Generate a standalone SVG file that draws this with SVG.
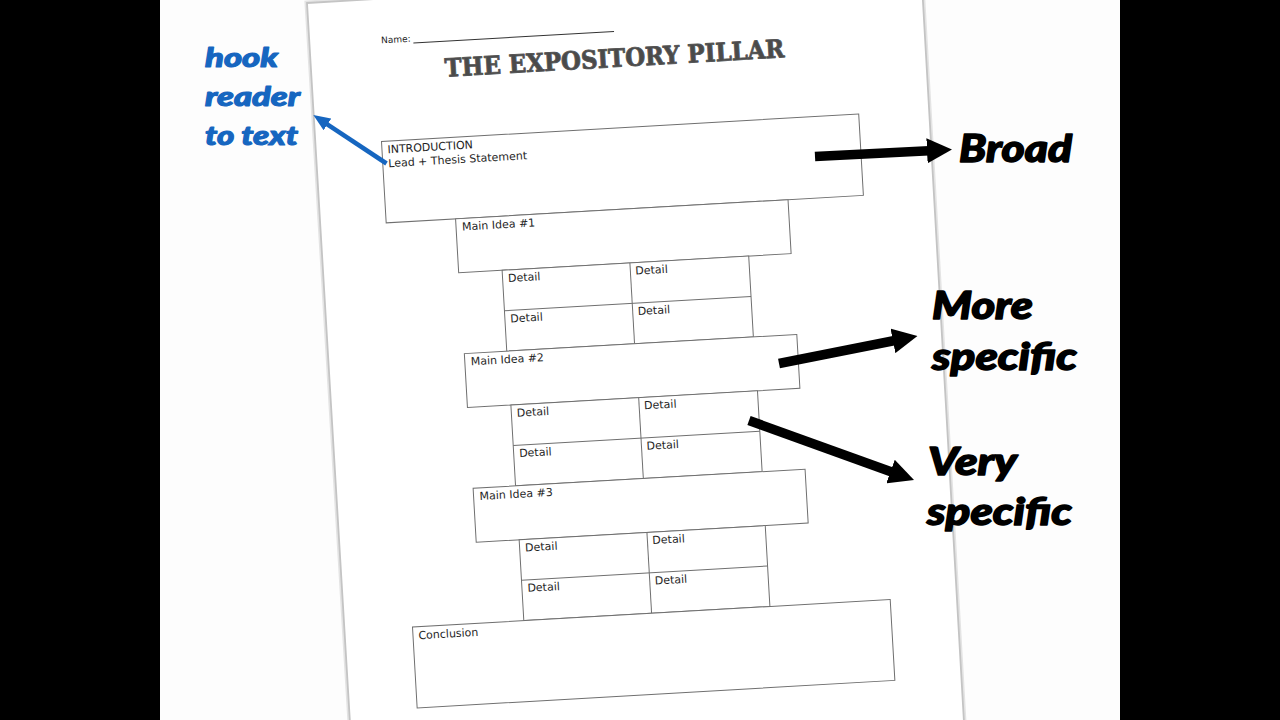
<svg xmlns="http://www.w3.org/2000/svg" width="1280" height="720" viewBox="0 0 1280 720">
<style>
.box{fill:#fff;stroke:#6f6f6f;stroke-width:1}
.ln{stroke:#6f6f6f;stroke-width:1;fill:none}
.lbl{font-family:"DejaVu Sans",Verdana,sans-serif;font-size:11px;fill:#1e1e1e}
.note{font-family:Lato,"Noto Sans",sans-serif;font-weight:900;font-style:italic;stroke-linejoin:round}
.blue{fill:#1666c0;stroke:#1666c0;stroke-width:1.1;font-size:27px}
.black{fill:#000;stroke:#000;stroke-width:1.4;font-size:37px}
.arr{stroke:#000;stroke-width:9.5;fill:none;marker-end:url(#headK)}
.arrb{stroke:#1666c0;stroke-width:4.5;fill:none;marker-end:url(#headB)}
</style>
<defs>
<marker id="headK" markerUnits="userSpaceOnUse" viewBox="0 0 25 25" markerWidth="25" markerHeight="25" refX="2" refY="12.5" orient="auto"><path d="M0,0 L25,12.5 L0,25 Z" fill="#000"/></marker>
<marker id="headB" markerUnits="userSpaceOnUse" viewBox="0 0 17 14" markerWidth="17" markerHeight="14" refX="2" refY="7" orient="auto"><path d="M0,0 L17,7 L0,14 Z" fill="#1666c0"/></marker>
</defs>
<rect x="0" y="0" width="1280" height="720" fill="#fdfdfd"/>
<rect x="0" y="0" width="160" height="720" fill="#000"/>
<rect x="1120" y="0" width="160" height="720" fill="#000"/>
<g id="paper">
<polygon points="307,3 921,-33 965,740 351,740" fill="#fff" stroke="#e4e4e4" stroke-width="5"/>
<polygon points="307,3 921,-33 965,740 351,740" fill="#fff" stroke="#c4c4c4" stroke-width="1.8"/>
</g>
<g id="sheet" transform="rotate(-3.3 640 360)">
<g id="header">
<text class="lbl" x="400" y="29" style="font-size:9px">Name:</text>
<line class="ln" x1="432" y1="30.5" x2="633" y2="30.5" style="stroke:#333"/>
<text x="632" y="66" text-anchor="middle" textLength="340" lengthAdjust="spacingAndGlyphs" style="font-family:'DejaVu Serif',serif;font-weight:bold;font-size:25px;fill:#4a4a4a;stroke:#555;stroke-width:0.9;stroke-linejoin:round">THE EXPOSITORY PILLAR</text>
</g>
<g id="introduction">
<rect class="box" x="394.5" y="127" width="478" height="81.5"/>
<text class="lbl" x="400" y="139">INTRODUCTION</text>
<text class="lbl" x="400" y="153">Lead + Thesis Statement</text>
</g>
<g id="main1">
<rect class="box" x="464" y="208.5" width="333" height="54"/>
<text class="lbl" x="470" y="220.5">Main Idea #1</text>
</g>
<g id="details1">
<rect class="box" x="507.5" y="262.5" width="247" height="81"/>
<line class="ln" x1="635.5" y1="262.5" x2="635.5" y2="343.5"/>
<line class="ln" x1="507.5" y1="303" x2="754.5" y2="303"/>
<text class="lbl" x="513" y="274.5">Detail</text>
<text class="lbl" x="640.5" y="274.5">Detail</text>
<text class="lbl" x="513" y="315">Detail</text>
<text class="lbl" x="640.5" y="315">Detail</text>
</g>
<g id="main2">
<rect class="box" x="465" y="343.5" width="333" height="54"/>
<text class="lbl" x="471" y="355.5">Main Idea #2</text>
</g>
<g id="details2">
<rect class="box" x="508.5" y="397.5" width="247" height="81"/>
<line class="ln" x1="636.5" y1="397.5" x2="636.5" y2="478.5"/>
<line class="ln" x1="508.5" y1="438" x2="755.5" y2="438"/>
<text class="lbl" x="514" y="409.5">Detail</text>
<text class="lbl" x="641.5" y="409.5">Detail</text>
<text class="lbl" x="514" y="450">Detail</text>
<text class="lbl" x="641.5" y="450">Detail</text>
</g>
<g id="main3">
<rect class="box" x="466" y="478.5" width="332.5" height="54"/>
<text class="lbl" x="472" y="490.5">Main Idea #3</text>
</g>
<g id="details3">
<rect class="box" x="509" y="532.5" width="246.5" height="81"/>
<line class="ln" x1="637" y1="532.5" x2="637" y2="613.5"/>
<line class="ln" x1="509" y1="573" x2="755.5" y2="573"/>
<text class="lbl" x="514.5" y="544.5">Detail</text>
<text class="lbl" x="642" y="544.5">Detail</text>
<text class="lbl" x="514.5" y="585">Detail</text>
<text class="lbl" x="642" y="585">Detail</text>
</g>
<g id="conclusion">
<rect class="box" x="397.5" y="613.5" width="478.5" height="81"/>
<text class="lbl" x="403" y="626">Conclusion</text>
</g>
</g>
<g id="connectors">
<line class="arrb" x1="386.5" y1="163.5" x2="325.8" y2="123.3"/>
<line class="arr" x1="815" y1="156.5" x2="929" y2="150.7"/>
<line class="arr" x1="779" y1="363.5" x2="894.9" y2="340.5"/>
<line class="arr" x1="749" y1="420.5" x2="892.4" y2="472.2"/>
</g>
<g id="labels">
<text class="note blue" x="205" y="67" textLength="73" lengthAdjust="spacingAndGlyphs">hook</text>
<text class="note blue" x="205" y="106" textLength="95" lengthAdjust="spacingAndGlyphs">reader</text>
<text class="note blue" x="205" y="145" textLength="93" lengthAdjust="spacingAndGlyphs">to text</text>
<text class="note black" x="959" y="162" textLength="113" lengthAdjust="spacingAndGlyphs">Broad</text>
<text class="note black" x="932" y="319" textLength="101" lengthAdjust="spacingAndGlyphs">More</text>
<text class="note black" x="932" y="370" textLength="145" lengthAdjust="spacingAndGlyphs">specific</text>
<text class="note black" x="928" y="475" textLength="89" lengthAdjust="spacingAndGlyphs">Very</text>
<text class="note black" x="927" y="525" textLength="145" lengthAdjust="spacingAndGlyphs">specific</text>
</g>
</svg>
